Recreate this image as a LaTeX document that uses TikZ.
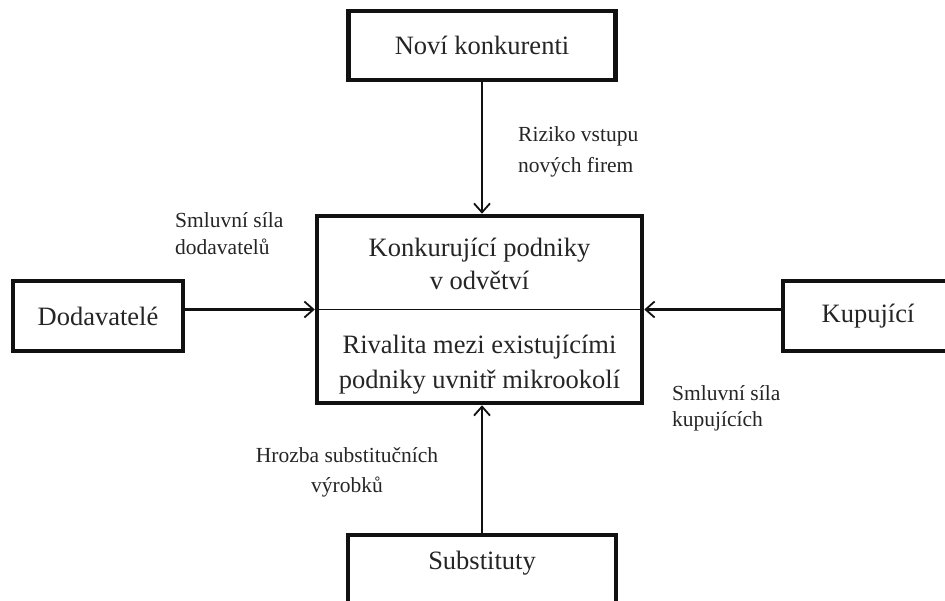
\documentclass[tikz,border=0pt]{standalone}
\usepackage{fontspec}
\setmainfont{Liberation Serif}
\usetikzlibrary{arrows.meta}
\definecolor{txt}{HTML}{252525}
\definecolor{ln}{HTML}{111111}
\begin{document}
\begin{tikzpicture}[x=1pt,y=-1pt,
  boxstyle/.style={draw=ln,line width=4.5pt,fill=white,inner sep=0pt,
    text=txt,font=\fontsize{26.5}{34}\selectfont,align=center},
  lbl/.style={text=txt,inner sep=0pt,align=left},
  conn/.style={draw=ln,line width=2.2pt,-{Straight Barb[length=9pt,width=16pt,line width=1.8pt]}},
  ]
\useasboundingbox (0,0) rectangle (945,601);
\fill[white] (0,0) rectangle (945,601);
\clip (0,0) rectangle (945,601);

\node[boxstyle,minimum width=267pt,minimum height=69pt] (novi) at (482,45.5) {Noví konkurenti};
\node[boxstyle,minimum width=325pt,minimum height=187pt] (stred) at (479.5,309.5) {};
\node[boxstyle,minimum width=170pt,minimum height=70pt] (dod) at (98,316) {Dodavatelé};
\node[boxstyle,minimum width=170pt,minimum height=70pt] (kup) at (868,316) {Kupující};
\node[boxstyle,minimum width=268pt,minimum height=70pt] (sub) at (482,570) {};
\node[text=txt,inner sep=0pt,font=\fontsize{26.5}{34}\selectfont] (subt) at (482,563) {Substituty};

\draw[ln,line width=1.5pt] (stred.west) -- (stred.east);
\node[text=txt,inner sep=0pt,align=center,font=\fontsize{26.5}{33}\selectfont] (horni) at (479.5,263.5)
  {Konkurující podniky\\v odvětví};
\node[text=txt,inner sep=0pt,align=center,font=\fontsize{26.5}{35}\selectfont] (dolni) at (479.5,364.5)
  {Rivalita mezi existujícími\\podniky uvnitř mikrookolí};

\draw[conn] (novi.south) -- (novi.south |- stred.north);
\draw[conn] (sub.north) -- (sub.north |- stred.south);
\draw[conn] (dod.east |- stred.west) -- (stred.west);
\draw[conn] (kup.west |- stred.east) -- (stred.east);

\node[lbl,anchor=base west,font=\fontsize{21.5}{31}\selectfont] (riz) at (518,173) {Riziko vstupu\\nových firem};
\node[lbl,anchor=base west,font=\fontsize{21.5}{27}\selectfont] (sd) at (175,255) {Smluvní síla\\dodavatelů};
\node[lbl,anchor=base west,font=\fontsize{21.5}{26}\selectfont] (sk) at (672,426) {Smluvní síla\\kupujících};
\node[lbl,align=center,anchor=base,font=\fontsize{21.5}{30}\selectfont] (hr) at (347,492) {Hrozba substitučních\\výrobků};
\end{tikzpicture}
\end{document}
